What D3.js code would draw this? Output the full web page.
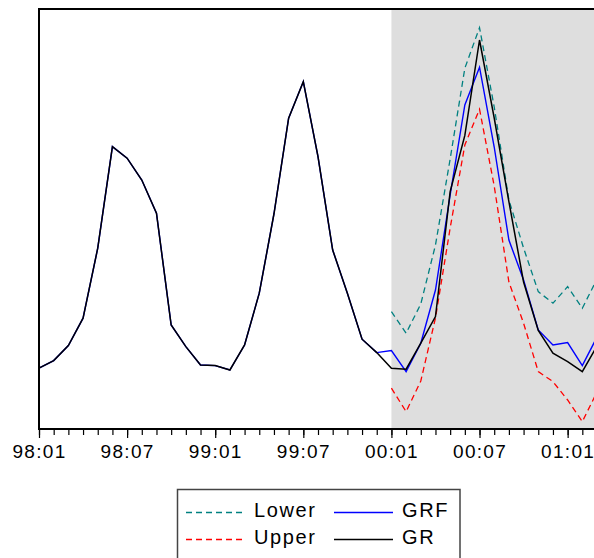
<html>
<head>
  <style>
    body { margin: 0; background: #fff; }
    svg text {
      font-family: "Liberation Sans", Arial, sans-serif;
      fill: black;
    }
    svg .tick text {
      font-size: 19px;
      letter-spacing: 1.3px;
    }
    svg .legend text {
      font-size: 20px;
      letter-spacing: 1.6px;
    }
    svg .series {
      fill: none;
      stroke-linejoin: miter;
    }
  </style>
</head>
<body>
<div id="chart"></div>
<script src="https://d3js.org/d3.v7.min.js"></script>
<script>
// monthly periods 1998m1 .. 2001m3
var months = [
  "98:01","98:02","98:03","98:04","98:05","98:06","98:07","98:08","98:09","98:10","98:11","98:12",
  "99:01","99:02","99:03","99:04","99:05","99:06","99:07","99:08","99:09","99:10","99:11","99:12",
  "00:01","00:02","00:03","00:04","00:05","00:06","00:07","00:08","00:09","00:10","00:11","00:12",
  "01:01","01:02","01:03"
];
var tickLabels = ["98:01","98:07","99:01","99:07","00:01","00:07","01:01"];
var forecastStart = "00:01";

// actual series, all periods
var gr = [
  3.04, 3.42, 4.17, 5.54, 9.04, 14.12, 13.54, 12.45, 10.79, 5.20, 4.12, 3.20,
  3.17, 2.95, 4.20, 6.79, 10.75, 15.54, 17.37, 13.62, 8.95, 6.79, 4.49, 3.82,
  3.04, 2.99, 4.29, 5.62, 11.87, 14.68, 19.45, 15.55, 11.37, 7.35, 4.93, 3.79,
  3.37, 2.87, 4.15
];
// forecast from 99:12 on
var grfStart = "99:12";
var grf = [
  3.82,
  3.92, 2.87, 4.29, 6.95, 11.70, 16.20, 18.09, 14.10, 9.45, 7.45, 4.95, 4.20,
  4.32, 3.17, 4.60
];
// bands from 00:01 on
var lower = [5.87, 4.79, 6.25, 9.20, 13.50, 18.04, 20.07, 16.10, 11.45, 9.05, 6.87, 6.29, 7.12, 6.04, 7.50];
var upper = [2.04, 0.87, 2.40, 5.55, 10.05, 14.20, 15.99, 12.15, 7.35, 5.29, 2.87, 2.37, 1.45, 0.37, 1.85];

(function () {
  var W = 594, H = 558;
  var top = 9, bottom = 429, left = 39, right = 597;

  var svg = d3.select("#chart")
    .append("svg")
      .attr("width", W)
      .attr("height", H);

  var x = d3.scalePoint().domain(months).range([left, right]).padding(0);
  var y = d3.scaleLinear().domain([0, 21]).range([bottom, top]);

  // forecast shading
  svg.append("rect")
      .attr("x", x(forecastStart))
      .attr("y", top)
      .attr("width", W - x(forecastStart) + 10)
      .attr("height", bottom - top)
      .style("fill", "#dedede");

  function pairs(values, startLabel) {
    var s = months.indexOf(startLabel);
    return values.map(function (v, i) { return { m: months[s + i], v: v }; });
  }

  var line = d3.line()
    .x(function (d) { return x(d.m); })
    .y(function (d) { return y(d.v); });

  // forecast series equals actual in history; it sits beneath GR
  var grfFull = pairs(gr, months[0]).slice(0, months.indexOf(grfStart))
    .concat(pairs(grf, grfStart));

  var series = [
    { name: "Lower", data: pairs(lower, forecastStart), color: "#008080", dash: "6,4", w: 1.3 },
    { name: "Upper", data: pairs(upper, forecastStart), color: "#ff0000", dash: "6,4", w: 1.3 },
    { name: "GRF",   data: grfFull,                       color: "#0000ff", dash: null,  w: 1.4 },
    { name: "GR",    data: pairs(gr, months[0]),          color: "#000000", dash: null,  w: 1.5 }
  ];

  series.forEach(function (s) {
    svg.append("path")
        .classed("series", true)
        .attr("d", line(s.data))
        .style("stroke", s.color)
        .style("stroke-width", s.w + "px")
        .style("stroke-dasharray", s.dash);
  });

  // minor ticks every month
  svg.append("g")
      .attr("transform", "translate(0," + bottom + ")")
      .call(d3.axisBottom(x).tickValues(months).tickSize(6).tickFormat(""))
      .call(function (g) { g.select(".domain").remove(); })
      .selectAll("line").style("stroke-width", "1.2px");

  // major ticks and labels
  svg.append("g")
      .attr("transform", "translate(0," + bottom + ")")
      .call(d3.axisBottom(x).tickValues(tickLabels).tickSize(9).tickPadding(6.5))
      .call(function (g) { g.select(".domain").remove(); })
      .call(function (g) { g.selectAll("text").style("font-family", null).style("font-size", null); })
      .selectAll("line").style("stroke-width", "1.2px");

  // frame
  svg.append("path")
      .attr("d", "M" + (W + 5) + "," + top + "H" + left + "V" + bottom + "H" + (W + 5))
      .style("fill", "none")
      .style("stroke", "black")
      .style("stroke-width", "2px");

  // legend
  var lg = svg.append("g").classed("legend", true);
  lg.append("rect")
      .attr("x", 177.5)
      .attr("y", 489.5)
      .attr("width", 282.5)
      .attr("height", 80)
      .style("fill", "white")
      .style("stroke", "#444")
      .style("stroke-width", "1.5px");

  var slots = [
    { x: 186, y: 512.5 }, { x: 186, y: 539.5 },
    { x: 334, y: 512.5 }, { x: 334, y: 539.5 }
  ];
  series.forEach(function (s, i) {
    var p = slots[i];
    lg.append("line")
        .attr("x1", p.x).attr("x2", p.x + 59)
        .attr("y1", p.y).attr("y2", p.y)
        .style("stroke", s.color)
        .style("stroke-width", "1.3px")
        .style("stroke-dasharray", s.dash);
    lg.append("text")
        .attr("x", p.x + 68)
        .attr("y", p.y + 4.5)
        .text(s.name);
  });
})();
</script>
</body>
</html>
